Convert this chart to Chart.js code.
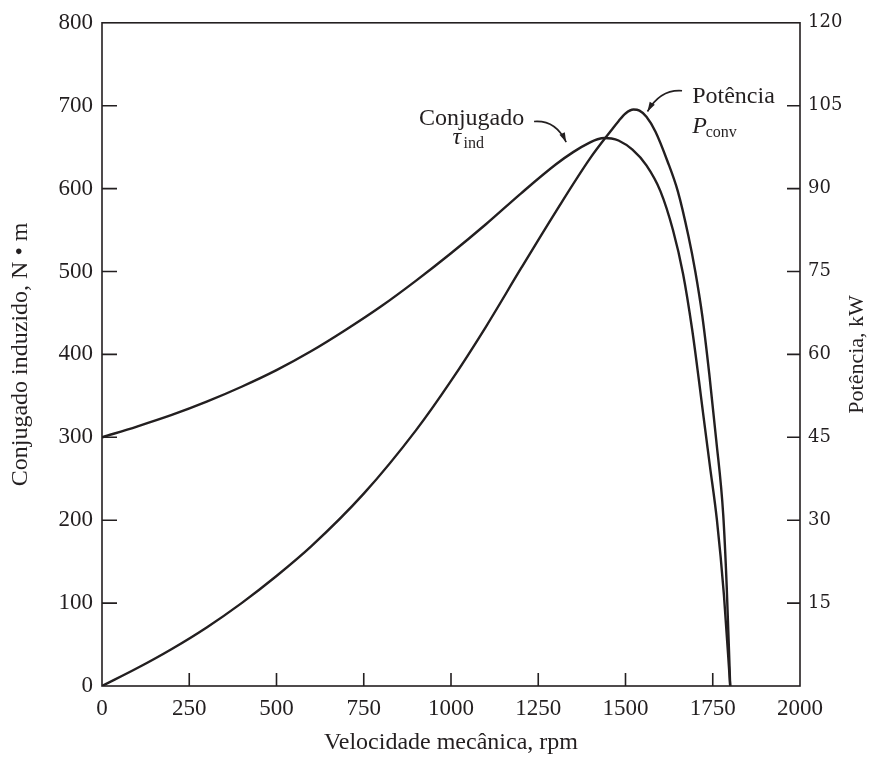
<!DOCTYPE html>
<html>
<head>
<meta charset="utf-8">
<script src="https://cdn.jsdelivr.net/npm/chart.js@4.4.1/dist/chart.umd.min.js"></script>
<style>
  html, body { margin: 0; padding: 0; background: #fff; }
  #wrap { width: 874px; height: 758px; }
</style>
</head>
<body>
<div id="wrap"><canvas id="chart" width="874" height="758"></canvas></div>
<script>
// Induced torque and converted power vs mechanical speed
var torqueSpeed = [0, 100, 200, 300, 400, 500, 600, 700, 800, 900, 1000, 1100, 1200, 1300, 1350, 1400, 1420, 1440, 1460, 1480, 1520, 1560, 1600, 1636, 1665, 1691, 1710, 1722, 1742, 1762, 1782, 1800];
var torqueNm = [300, 313, 327, 343, 361, 381, 404, 430, 458, 489, 522, 557, 594, 629, 644, 656, 659.5, 661, 660.5, 658, 647, 628, 597, 550, 497, 430, 370, 330, 265, 200, 110, 0];

var powerSpeed = [0, 100, 200, 300, 400, 500, 600, 750, 900, 1000, 1100, 1200, 1300, 1400, 1460, 1480, 1500, 1523, 1540, 1560, 1586, 1620, 1650, 1680, 1700, 1720, 1740, 1760, 1780, 1790, 1800];
var powerKw = [0, 3.2, 6.7, 10.6, 15.0, 19.9, 25.3, 34.8, 46.3, 55.2, 65, 75.5, 85.8, 95.6, 100.6, 102.2, 103.6, 104.3, 104.1, 103.0, 100.3, 95, 89.5, 81.5, 75, 67, 56.5, 44.5, 31, 18, 0];

var speedTicks = [0, 250, 500, 750, 1000, 1250, 1500, 1750, 2000];
var torqueTicks = [0, 100, 200, 300, 400, 500, 600, 700, 800];
var powerTicks = [0, 15, 30, 45, 60, 75, 90, 105, 120];

var INK = '#231f20';
var SERIF = "'Liberation Serif', 'Times New Roman', serif";

function pairs(xs, ys) {
  return xs.map(function (x, i) { return { x: x, y: ys[i] }; });
}

// inward tick marks, closed frame, right title and the two callouts
var framePlugin = {
  id: 'frame',
  afterDraw: function (chart) {
    var ctx = chart.ctx;
    var a = chart.chartArea;
    var sx = chart.scales.x, sy = chart.scales.y, sp = chart.scales.y1;
    ctx.save();
    ctx.strokeStyle = INK;
    ctx.lineWidth = 1.6;
    ctx.strokeRect(a.left, a.top, a.right - a.left, a.bottom - a.top);

    ctx.beginPath();
    speedTicks.slice(1, -1).forEach(function (v) {
      var px = sx.getPixelForValue(v);
      ctx.moveTo(px, a.bottom); ctx.lineTo(px, a.bottom - 13);
    });
    torqueTicks.slice(1, -1).forEach(function (v) {
      var py = sy.getPixelForValue(v);
      ctx.moveTo(a.left, py); ctx.lineTo(a.left + 15, py);
    });
    powerTicks.slice(1, -1).forEach(function (v) {
      var py = sp.getPixelForValue(v);
      ctx.moveTo(a.right, py); ctx.lineTo(a.right - 13, py);
    });
    ctx.stroke();

    // right axis title, reads bottom to top
    ctx.fillStyle = INK;
    ctx.font = '22px ' + SERIF;
    ctx.textAlign = 'center';
    ctx.textBaseline = 'middle';
    ctx.translate(857, (a.top + a.bottom) / 2);
    ctx.rotate(-Math.PI / 2);
    ctx.fillText('Potência, kW', 0, 0);
    ctx.restore();

    function X(v) { return sx.getPixelForValue(v); }
    function Y(v) { return sy.getPixelForValue(v); }

    ctx.save();
    ctx.fillStyle = INK;
    ctx.strokeStyle = INK;
    ctx.textBaseline = 'alphabetic';
    ctx.textAlign = 'left';
    ctx.font = '24px ' + SERIF;
    ctx.fillText('Conjugado', X(908), Y(677));
    ctx.fillText('Potência', X(1691), Y(703));
    ctx.font = 'italic 24px ' + SERIF;
    ctx.fillText('τ', X(1004), Y(654));
    ctx.fillText('P', X(1691), Y(667));
    ctx.font = '16px ' + SERIF;
    ctx.fillText('ind', X(1036), Y(649));
    ctx.fillText('conv', X(1730), Y(662));

    function arrow(x0, y0, cx, cy, x1, y1) {
      ctx.lineWidth = 1.6;
      ctx.beginPath();
      ctx.moveTo(x0, y0);
      ctx.quadraticCurveTo(cx, cy, x1, y1);
      ctx.stroke();
      var ang = Math.atan2(y1 - cy, x1 - cx);
      ctx.beginPath();
      ctx.moveTo(x1, y1);
      ctx.lineTo(x1 - 10 * Math.cos(ang - 0.3), y1 - 10 * Math.sin(ang - 0.3));
      ctx.lineTo(x1 - 10 * Math.cos(ang + 0.3), y1 - 10 * Math.sin(ang + 0.3));
      ctx.closePath();
      ctx.fill();
    }
    arrow(X(1238), Y(681), X(1300), Y(683), X(1330), Y(656));
    arrow(X(1662), Y(718), X(1600), Y(720), X(1563), Y(693));
    ctx.restore();
  }
};

new Chart(document.getElementById('chart'), {
  type: 'line',
  data: {
    datasets: [
      {
        label: 'Conjugado',
        data: pairs(torqueSpeed, torqueNm),
        yAxisID: 'y',
        borderColor: INK,
        borderWidth: 2.4,
        pointRadius: 0,
        cubicInterpolationMode: 'monotone',
        fill: false
      },
      {
        label: 'Potência',
        data: pairs(powerSpeed, powerKw),
        yAxisID: 'y1',
        borderColor: INK,
        borderWidth: 2.4,
        pointRadius: 0,
        cubicInterpolationMode: 'monotone',
        fill: false
      }
    ]
  },
  options: {
    responsive: false,
    animation: false,
    events: [],
    layout: { padding: { top: 20, left: 0, right: 0, bottom: 0 } },
    plugins: { legend: { display: false }, tooltip: { enabled: false } },
    scales: {
      x: {
        type: 'linear',
        min: 0,
        max: 2000,
        afterBuildTicks: function (s) { s.ticks = speedTicks.map(function (v) { return { value: v }; }); },
        afterFit: function (s) { s.height = 72; },
        grid: { display: false, drawTicks: false },
        border: { display: false },
        ticks: {
          color: INK,
          font: { family: SERIF, size: 23 },
          padding: 9,
          maxRotation: 0,
          autoSkip: false,
          callback: function (v) { return String(v); }
        },
        title: { display: true, text: 'Velocidade mecânica, rpm', color: INK, font: { family: SERIF, size: 24 }, padding: { top: 0, bottom: 1 } }
      },
      y: {
        position: 'left',
        min: 0,
        max: 800,
        afterBuildTicks: function (s) { s.ticks = torqueTicks.map(function (v) { return { value: v }; }); },
        afterFit: function (s) { s.width = 102; },
        grid: { display: false, drawTicks: false },
        border: { display: false },
        ticks: { color: INK, font: { family: SERIF, size: 23 }, padding: 9, callback: function (v) { return String(v); } },
        title: { display: true, text: 'Conjugado induzido, N • m', color: INK, font: { family: SERIF, size: 24 }, padding: { top: 6, bottom: 0 } }
      },
      y1: {
        position: 'right',
        min: 0,
        max: 120,
        afterBuildTicks: function (s) { s.ticks = powerTicks.map(function (v) { return { value: v }; }); },
        afterFit: function (s) { s.width = 74; },
        grid: { display: false, drawTicks: false },
        border: { display: false },
        ticks: {
          color: INK,
          font: { family: "'DejaVu Serif', serif", size: 18 },
          padding: 8,
          callback: function (v) { return v === 0 ? '' : String(v); }
        }
      }
    }
  },
  plugins: [framePlugin]
});
</script>
</body>
</html>
